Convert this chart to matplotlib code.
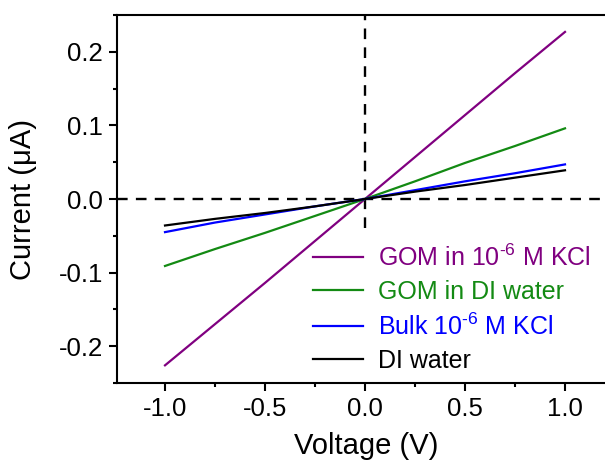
import numpy as np
import matplotlib
matplotlib.use('Agg')
import matplotlib.pyplot as plt
from matplotlib.ticker import MultipleLocator, FormatStrFormatter

plt.rcParams['font.family'] = ['Liberation Sans', 'DejaVu Sans']
plt.rcParams['mathtext.fontset'] = 'custom'
plt.rcParams['mathtext.rm'] = 'Liberation Sans'
plt.rcParams['mathtext.it'] = 'Liberation Sans:italic'
plt.rcParams['axes.unicode_minus'] = False

# I-V data
voltage = [-1.0, -0.75, -0.5, -0.25, 0.0, 0.25, 0.5, 0.75, 1.0]
gom_kcl = [-0.226, -0.170, -0.114, -0.057, 0.0, 0.057, 0.114, 0.171, 0.227]
gom_di = [-0.091, -0.068, -0.046, -0.023, 0.0, 0.024, 0.049, 0.072, 0.096]
bulk_kcl = [-0.045, -0.032, -0.021, -0.010, 0.0, 0.012, 0.024, 0.035, 0.047]
di_water = [-0.036, -0.027, -0.019, -0.010, 0.0, 0.010, 0.019, 0.029, 0.039]

labels = [r'GOM in 10$^{\text{-6}}$ M KCl', 'GOM in DI water',
          r'Bulk 10$^{\text{-6}}$ M KCl', 'DI water']
colors = ['#800080', '#138a13', '#0000ff', '#000000']

fig = plt.figure(figsize=(6.05, 4.61), dpi=100)
# right spine is cut off in the original, so the axes runs past the figure
ax = fig.add_axes([117/605, 78/461, 498/605, 368/461])

ax.axhline(0, color='black', lw=1.7, dashes=(4.5, 3.5), zorder=1)
# vertical guide stops above the legend
ax.axvline(0, ymin=0.42, color='black', lw=1.7, dashes=(4.5, 3.5), zorder=1)

for y, lab, c in zip([gom_kcl, gom_di, bulk_kcl, di_water], labels, colors):
    ax.plot(voltage, y, color=c, lw=1.6, label=lab, zorder=2)

ax.set_xlim(-1.24, 1.25)
ax.set_ylim(-0.25, 0.25)
ax.xaxis.set_major_locator(MultipleLocator(0.5))
ax.xaxis.set_minor_locator(MultipleLocator(0.25))
ax.yaxis.set_major_locator(MultipleLocator(0.1))
ax.yaxis.set_minor_locator(MultipleLocator(0.05))
ax.xaxis.set_major_formatter(FormatStrFormatter('%.1f'))
ax.yaxis.set_major_formatter(FormatStrFormatter('%.1f'))

ax.tick_params(which='both', direction='out', width=1.5, labelsize=18.5,
               top=False, right=False)
ax.tick_params(which='major', length=6, pad=4)
ax.tick_params(which='minor', length=3)
for s in ax.spines.values():
    s.set_linewidth(1.5)

ax.set_xlabel('Voltage (V)', fontsize=21, labelpad=8)
ax.set_ylabel('Current (\u03bcA)', fontsize=21, labelpad=16)

leg = ax.legend(loc='lower left', bbox_to_anchor=((305-117)/498, 3/368),
                fontsize=18, frameon=False, handlelength=2.0,
                handletextpad=0.6, labelspacing=0.36, borderpad=0.3,
                borderaxespad=0)
for txt, c in zip(leg.get_texts(), colors):
    txt.set_color(c)

fig.savefig('out.png', dpi=100)
